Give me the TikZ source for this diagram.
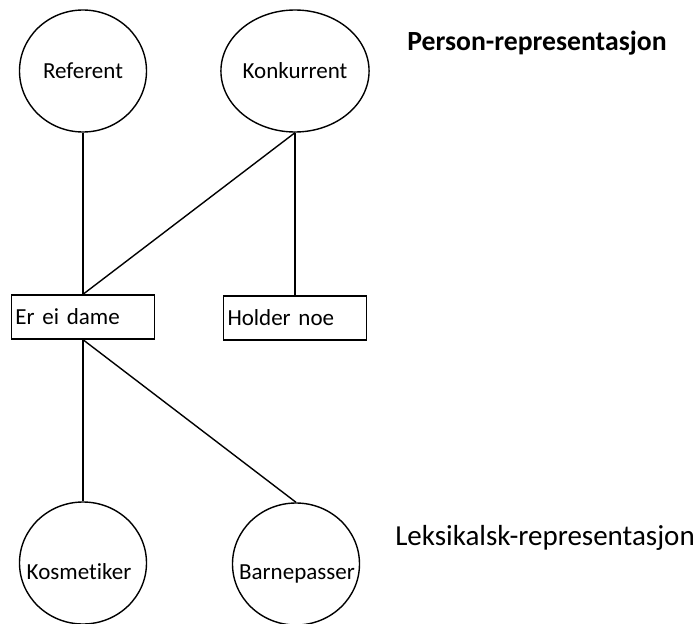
\documentclass[tikz,border=0pt]{standalone}
\usepackage{fontspec}
\setmainfont{Carlito}[Ligatures=NoCommon]
\usepackage{tikz}
\usetikzlibrary{shapes.geometric,calc}

\tikzset{
  ring/.style={draw,ellipse,line width=1.4pt,minimum width=127pt,minimum height=122pt,inner sep=0pt},
  boks/.style={draw,rectangle,line width=1.4pt,minimum height=44pt,text width=135pt,inner xsep=4pt,align=left},
  merke/.style={font=\fontsize{23}{27}\selectfont},
  tittel/.style={font=\fontsize{29}{33}\selectfont}
}

\begin{document}
\begin{tikzpicture}[x=1pt,y=-1pt]
  \useasboundingbox (0,0) rectangle (697,624);
  \node[ring,merke] (referent) at (83,71) {Referent};
  \node[ring,merke] (konkurrent) at (295,71) {Konkurrent};
  \node[font=\bfseries\fontsize{27.7}{32}\selectfont] (person) at (537,43) {Person-representasjon};
  \node[boks,merke] (dame) at (83,317) {Er ei dame};
  \node[boks,merke] (holder) at (295,318) {Holder noe};
  \node[ring] (kosmetiker) at (83,563) {}; %下面两个圆
  \node[ring] (barnepasser) at (296,564) {};
  \node[merke] (kosmetikertekst) at ([xshift=-4pt,yshift=-9pt]kosmetiker.center) {Kosmetiker};
  \node[merke] (barnepassertekst) at ([xshift=1pt,yshift=-10pt]barnepasser.center) {Barnepasser};
  \node[tittel] (leksikalsk) at (545,538) {Leksikalsk-representasjon};
  \draw[line width=1.4pt] (referent.south) -- (dame.north);
  \draw[line width=1.4pt] (konkurrent.south) -- (dame.north);
  \draw[line width=1.4pt] (konkurrent.south) -- (holder.north);
  \draw[line width=1.4pt] (dame.south) -- (kosmetiker.north);
  \draw[line width=1.4pt] (dame.south) -- (barnepasser.north);
\end{tikzpicture}
\end{document}
